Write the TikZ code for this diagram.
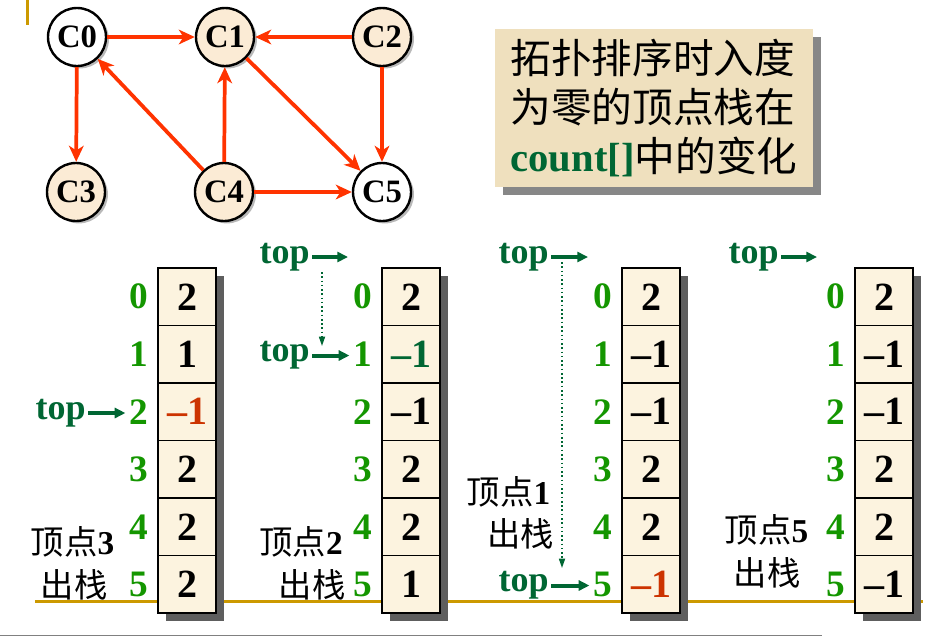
\documentclass[tikz,border=0pt]{standalone}
\usepackage{fontspec}
\setmainfont{Liberation Serif}
\newfontfamily\cjk{Noto Sans CJK SC}
\usetikzlibrary{arrows.meta,shadows}
\definecolor{edgered}{HTML}{FF3300}
\definecolor{vertfill}{HTML}{FBEBD5}
\definecolor{cellfill}{HTML}{FCF3DF}
\definecolor{topgreen}{HTML}{006633}
\definecolor{idxgreen}{HTML}{149600}
\definecolor{minusred}{HTML}{CC3300}
\definecolor{goldline}{HTML}{CC9900}
\definecolor{boxshadow}{HTML}{5E5E5E}
\definecolor{titlefill}{HTML}{EFE0BE}
\definecolor{titleshadow}{HTML}{878787}
\tikzset{
  vert/.style={circle, draw=black, line width=1.8pt, fill=vertfill, minimum size=43.5pt, inner sep=0pt,
    font=\fontsize{24.5}{28}\selectfont\bfseries,
    drop shadow={shadow xshift=2.2pt, shadow yshift=-1.8pt, fill=gray!55, opacity=1}},
  edge/.style={draw=edgered, line width=2.8pt, -{Stealth[length=12pt, width=11pt, inset=3.5pt]}},
  cell/.style={draw=black, line width=1.1pt, fill=cellfill},
  val/.style={font=\fontsize{30}{36}\selectfont\bfseries},
  idx/.style={inner sep=3pt, text=idxgreen, font=\fontsize{28}{32}\selectfont\bfseries},
  toplbl/.style={inner sep=1.5pt, text=topgreen, font=\fontsize{27}{32}\selectfont\bfseries},
  toparrow/.style={draw=topgreen, line width=3pt, -{Triangle[length=8pt, width=7.5pt]}},
  movearrow/.style={draw=topgreen, line width=1.2pt, dotted, -{Triangle[length=7pt, width=4.5pt]}},
  cjklbl/.style={inner sep=0pt, font=\fontsize{25}{30}\selectfont\cjk},
  titlebox/.style={fill=titlefill, minimum width=238.5pt, minimum height=118.5pt, align=left,
    font=\fontsize{30.5}{37}\selectfont\cjk,
    drop shadow={shadow xshift=6pt, shadow yshift=-6pt, fill=titleshadow, opacity=1}}
}
\begin{document}
\begin{tikzpicture}[x=0.75pt, y=-0.75pt]
\useasboundingbox (0, 0) rectangle (948, 637);
\draw [goldline, line width=2.25pt] (27, 0) -- (27, 25);
\draw [gray, line width=1pt] (0, 635.5) -- (822, 635.5);

% graph
\node [vert, fill=white] (c0) at (77, 37) {C0};
\node [vert] (c1) at (225, 37) {C1};
\node [vert] (c2) at (382, 37) {C2};
\node [vert] (c3) at (76, 192) {C3};
\node [vert] (c4) at (224, 192) {C4};
\node [vert, fill=white] (c5) at (382, 192) {C5};
\draw [edge] (c0) -- (c1);
\draw [edge] (c2) -- (c1);
\draw [edge] (c0) -- (c3);
\draw [edge] (c4) -- (c0);
\draw [edge] (c4) -- (c1);
\draw [edge] (c1) -- (c5);
\draw [edge] (c2) -- (c5);
\draw [edge] (c4) -- (c5);

\node [titlebox] (title) at (654, 108) {拓扑排序时入度\\为零的顶点栈在\\{\rmfamily\bfseries\color{topgreen}count[]}中的变化};

\draw [goldline, line width=2.25pt] (35, 601) -- (923, 601);

% (a) vertex 3 popped
\begin{scope}[shift={(158, 268)}]
\fill [boxshadow] (8, 8) rectangle ++(58, 345);
\draw [cell] (0, 0) rectangle ++(58, 57.5) node [midway, val] (a0) {2};
\draw [cell] (0, 57.5) rectangle ++(58, 57.5) node [midway, val] (a1) {1};
\draw [cell] (0, 115) rectangle ++(58, 57.5) node [midway, val, text=minusred] (a2) {\textendash1};
\draw [cell] (0, 172.5) rectangle ++(58, 57.5) node [midway, val] (a3) {2};
\draw [cell] (0, 230) rectangle ++(58, 57.5) node [midway, val] (a4) {2};
\draw [cell] (0, 287.5) rectangle ++(58, 57.5) node [midway, val] (a5) {2};
\node [idx] (ia0) at (-19, 28.75) {0};
\node [idx] (ia1) at (-19, 86.25) {1};
\node [idx] (ia2) at (-19, 143.75) {2};
\node [idx] (ia3) at (-19, 201.25) {3};
\node [idx] (ia4) at (-19, 258.75) {4};
\node [idx] (ia5) at (-19, 316.25) {5};
\node [toplbl, anchor=east] (topa) at (-70, 145) {top};
\draw [toparrow] (topa.east) -- (topa.east -| ia2.west);
\node [cjklbl] (la1) at (-85.5, 274) {顶点{\rmfamily\bfseries 3}};
\node [cjklbl] (la2) at (-84, 317) {出栈};
\end{scope}

% (b) vertex 2 popped
\begin{scope}[shift={(382, 268)}]
\fill [boxshadow] (8, 8) rectangle ++(58, 345);
\draw [cell] (0, 0) rectangle ++(58, 57.5) node [midway, val] (b0) {2};
\draw [cell] (0, 57.5) rectangle ++(58, 57.5) node [midway, val, text=topgreen] (b1) {\textendash1};
\draw [cell] (0, 115) rectangle ++(58, 57.5) node [midway, val] (b2) {\textendash1};
\draw [cell] (0, 172.5) rectangle ++(58, 57.5) node [midway, val] (b3) {2};
\draw [cell] (0, 230) rectangle ++(58, 57.5) node [midway, val] (b4) {2};
\draw [cell] (0, 287.5) rectangle ++(58, 57.5) node [midway, val] (b5) {1};
\node [idx] (ib0) at (-19, 28.75) {0};
\node [idx] (ib1) at (-19, 86.25) {1};
\node [idx] (ib2) at (-19, 143.75) {2};
\node [idx] (ib3) at (-19, 201.25) {3};
\node [idx] (ib4) at (-19, 258.75) {4};
\node [idx] (ib5) at (-19, 316.25) {5};
\node [toplbl, anchor=east] (topb) at (-70, -11) {top};
\coordinate (topbtip) at (-34, -11);
\draw [toparrow] (topb.east) -- (topbtip);
\coordinate (movb0) at (-60, 4);
\coordinate (movb1) at (-60, 78);
\draw [movearrow] (movb0) -- (movb1);
\node [toplbl, anchor=east] (topb1) at (-70, 87.5) {top};
\draw [toparrow] (topb1.east) -- (topb1.east -| ib1.west);
\node [cjklbl] (lb1) at (-81, 274) {顶点{\rmfamily\bfseries 2}};
\node [cjklbl] (lb2) at (-70, 317) {出栈};
\end{scope}

% (c) vertex 1 popped
\begin{scope}[shift={(622, 268)}]
\fill [boxshadow] (8, 8) rectangle ++(58, 345);
\draw [cell] (0, 0) rectangle ++(58, 57.5) node [midway, val] (c0v) {2};
\draw [cell] (0, 57.5) rectangle ++(58, 57.5) node [midway, val] (c1v) {\textendash1};
\draw [cell] (0, 115) rectangle ++(58, 57.5) node [midway, val] (c2v) {\textendash1};
\draw [cell] (0, 172.5) rectangle ++(58, 57.5) node [midway, val] (c3v) {2};
\draw [cell] (0, 230) rectangle ++(58, 57.5) node [midway, val] (c4v) {2};
\draw [cell] (0, 287.5) rectangle ++(58, 57.5) node [midway, val, text=minusred] (c5v) {\textendash1};
\node [idx] (ic0) at (-19, 28.75) {0};
\node [idx] (ic1) at (-19, 86.25) {1};
\node [idx] (ic2) at (-19, 143.75) {2};
\node [idx] (ic3) at (-19, 201.25) {3};
\node [idx] (ic4) at (-19, 258.75) {4};
\node [idx] (ic5) at (-19, 316.25) {5};
\node [toplbl, anchor=east] (topc) at (-71, -11) {top};
\coordinate (topctip) at (-34, -11);
\draw [toparrow] (topc.east) -- (topctip);
\coordinate (movc0) at (-60, -6);
\coordinate (movc1) at (-60, 300);
\draw [movearrow] (movc0) -- (movc1);
\node [toplbl, anchor=east] (topc5) at (-71, 317.5) {top};
\draw [toparrow] (topc5.east) -- (topc5.east -| ic5.west);
\node [cjklbl] (lc1) at (-113.5, 224) {顶点{\rmfamily\bfseries 1}};
\node [cjklbl] (lc2) at (-101.5, 266) {出栈};
\end{scope}

% (d) vertex 5 popped
\begin{scope}[shift={(855, 268)}]
\fill [boxshadow] (8, 8) rectangle ++(58, 345);
\draw [cell] (0, 0) rectangle ++(58, 57.5) node [midway, val] (d0) {2};
\draw [cell] (0, 57.5) rectangle ++(58, 57.5) node [midway, val] (d1) {\textendash1};
\draw [cell] (0, 115) rectangle ++(58, 57.5) node [midway, val] (d2) {\textendash1};
\draw [cell] (0, 172.5) rectangle ++(58, 57.5) node [midway, val] (d3) {2};
\draw [cell] (0, 230) rectangle ++(58, 57.5) node [midway, val] (d4) {2};
\draw [cell] (0, 287.5) rectangle ++(58, 57.5) node [midway, val] (d5) {\textendash1};
\node [idx] (id0) at (-19, 28.75) {0};
\node [idx] (id1) at (-19, 86.25) {1};
\node [idx] (id2) at (-19, 143.75) {2};
\node [idx] (id3) at (-19, 201.25) {3};
\node [idx] (id4) at (-19, 258.75) {4};
\node [idx] (id5) at (-19, 316.25) {5};
\node [toplbl, anchor=east] (topd) at (-74, -11) {top};
\coordinate (topdtip) at (-38, -11);
\draw [toparrow] (topd.east) -- (topdtip);
\node [cjklbl] (ld1) at (-88.5, 262) {顶点{\rmfamily\bfseries 5}};
\node [cjklbl] (ld2) at (-88, 305) {出栈};
\end{scope}
\end{tikzpicture}
\end{document}
